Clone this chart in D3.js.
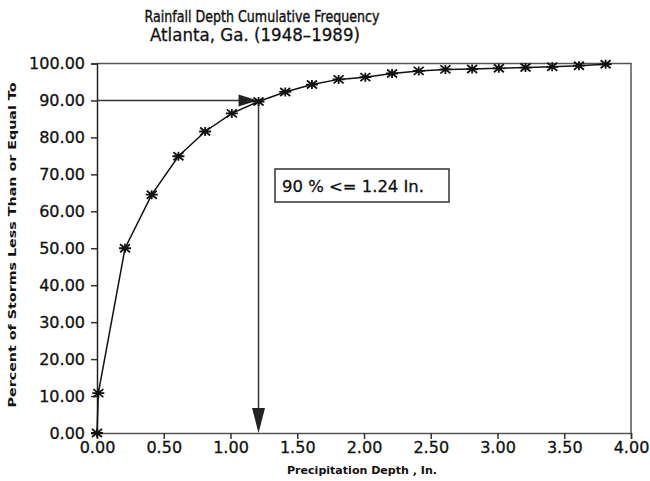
<!DOCTYPE html>
<html lang="en">
<head>
    <meta charset="UTF-8">
    <title>Rainfall Depth Cumulative Frequency</title>
    <script src="https://cdn.jsdelivr.net/npm/d3@7/dist/d3.min.js"></script>
    <style>
        body { margin: 0; background: #fff; }
        text { font-family: "DejaVu Sans", sans-serif; fill: #111; }
    </style>
</head>
<body>
    <script>
        // data
        var depth = [0, 0.01, 0.21, 0.41, 0.61, 0.81, 1.01, 1.21, 1.41, 1.61, 1.81, 2.01, 2.21,
                     2.41, 2.61, 2.81, 3.01, 3.21, 3.41, 3.61, 3.81];
        var percent = [0, 10.8, 50.0, 64.5, 74.9, 81.6, 86.5, 89.7, 92.3, 94.3, 95.7, 96.3, 97.3,
                       98.0, 98.4, 98.5, 98.7, 98.9, 99.1, 99.4, 99.8];
        var xTicks = [0, 0.5, 1, 1.5, 2, 2.5, 3, 3.5, 4];
        var yTicks = [0, 10, 20, 30, 40, 50, 60, 70, 80, 90, 100];
        var markIndex = 7;          // the 90 % point
        var markLabel = "90 % <= 1.24 In.";

        var width = 650, height = 481;
        var svg = d3.select("body").append("svg").attr("width", width).attr("height", height);

        var x = d3.scaleLinear().domain([0, 4]).range([97, 631]);
        var y = d3.scaleLinear().domain([0, 100]).range([433, 63.5]);

        // title
        svg.append("text").attr("x", 262).attr("y", 22).attr("text-anchor", "middle")
            .attr("font-size", 15).attr("textLength", 235).attr("lengthAdjust", "spacingAndGlyphs")
            .attr("stroke", "#111").attr("stroke-width", 0.4)
            .text("Rainfall Depth Cumulative Frequency");
        svg.append("text").attr("x", 255).attr("y", 41).attr("text-anchor", "middle")
            .attr("font-size", 18).attr("textLength", 210).attr("lengthAdjust", "spacingAndGlyphs")
            .attr("stroke", "#111").attr("stroke-width", 0.3)
            .text("Atlanta,  Ga. (1948\u20131989)");

        // frame (top, right)
        svg.append("path")
            .attr("d", "M" + x(0) + "," + y(100) + "H" + x(4) + "V" + y(0))
            .attr("fill", "none").attr("stroke", "#555").attr("stroke-width", 1.5);

        // axes
        var yAxis = svg.append("g").attr("transform", "translate(" + x(0) + ",0)")
            .call(d3.axisLeft(y).tickValues(yTicks).tickFormat(d3.format(".2f")).tickSize(6).tickPadding(6));
        var xAxis = svg.append("g").attr("transform", "translate(0," + y(0) + ")")
            .call(d3.axisBottom(x).tickValues(xTicks).tickFormat(d3.format(".2f")).tickSize(6).tickPadding(3));
        [xAxis, yAxis].forEach(function(g) {
            g.select(".domain").attr("stroke", "#222").attr("stroke-width", 1.5);
            g.selectAll(".tick line").attr("stroke", "#333").attr("stroke-width", 1.5);
            g.selectAll(".tick text").attr("font-size", 16).attr("font-family", "DejaVu Sans")
                .attr("fill", "#111").attr("stroke", "#111").attr("stroke-width", 0.3);
        });
        xAxis.select(".domain").attr("stroke", "#555");

        // axis titles
        svg.append("text").attr("transform", "translate(16,245) rotate(-90)").attr("text-anchor", "middle")
            .attr("font-size", 11).attr("font-weight", "bold").attr("textLength", 325)
            .attr("lengthAdjust", "spacingAndGlyphs")
            .text("Percent of Storms Less Than or Equal To");
        svg.append("text").attr("x", 362).attr("y", 474).attr("text-anchor", "middle")
            .attr("font-size", 11).attr("font-weight", "bold").attr("textLength", 150)
            .attr("lengthAdjust", "spacingAndGlyphs")
            .text("Precipitation Depth ,  In.");

        // 90 % arrows
        var mx = x(depth[markIndex]), my = y(90);
        svg.append("line").attr("x1", x(0)).attr("y1", my).attr("x2", mx - 18).attr("y2", my)
            .attr("stroke", "#333").attr("stroke-width", 1.5);
        svg.append("path")
            .attr("d", "M" + (mx - 20) + "," + (my - 6) + "L" + (mx - 1) + "," + my + "L" + (mx - 20) + "," + (my + 6) + "Z")
            .attr("fill", "#222");
        svg.append("line").attr("x1", mx).attr("y1", y(percent[markIndex])).attr("x2", mx).attr("y2", y(0) - 22)
            .attr("stroke", "#333").attr("stroke-width", 1.5);
        svg.append("path")
            .attr("d", "M" + (mx - 6.5) + "," + (y(0) - 25) + "L" + mx + "," + y(0) + "L" + (mx + 6.5) + "," + (y(0) - 25) + "Z")
            .attr("fill", "#222");

        // label box
        svg.append("rect").attr("x", 275).attr("y", 169).attr("width", 174).attr("height", 33)
            .attr("fill", "#fff").attr("stroke", "#333").attr("stroke-width", 1.5);
        svg.append("text").attr("x", 282).attr("y", 192).attr("font-size", 16)
            .attr("textLength", 142).attr("lengthAdjust", "spacingAndGlyphs")
            .attr("stroke", "#111").attr("stroke-width", 0.3)
            .text(markLabel);

        // curve
        var pts = depth.map(function(d, i) { return [d, percent[i]]; });
        var line = d3.line().x(function(d) { return x(d[0]); }).y(function(d) { return y(d[1]); });
        svg.append("path").datum(pts).attr("d", line)
            .attr("fill", "none").attr("stroke", "#111").attr("stroke-width", 1.5);

        // asterisk markers
        var star = "M-6,0H6M0,-4.5V4.5M-5,-4L5,4M-5,4L5,-4";
        svg.selectAll(".mk").data(pts).enter().append("path")
            .attr("class", "mk")
            .attr("transform", function(d) { return "translate(" + x(d[0]) + "," + y(d[1]) + ")"; })
            .attr("d", star)
            .attr("stroke", "#111").attr("stroke-width", 1.8).attr("fill", "none");
    </script>
</body>
</html>
